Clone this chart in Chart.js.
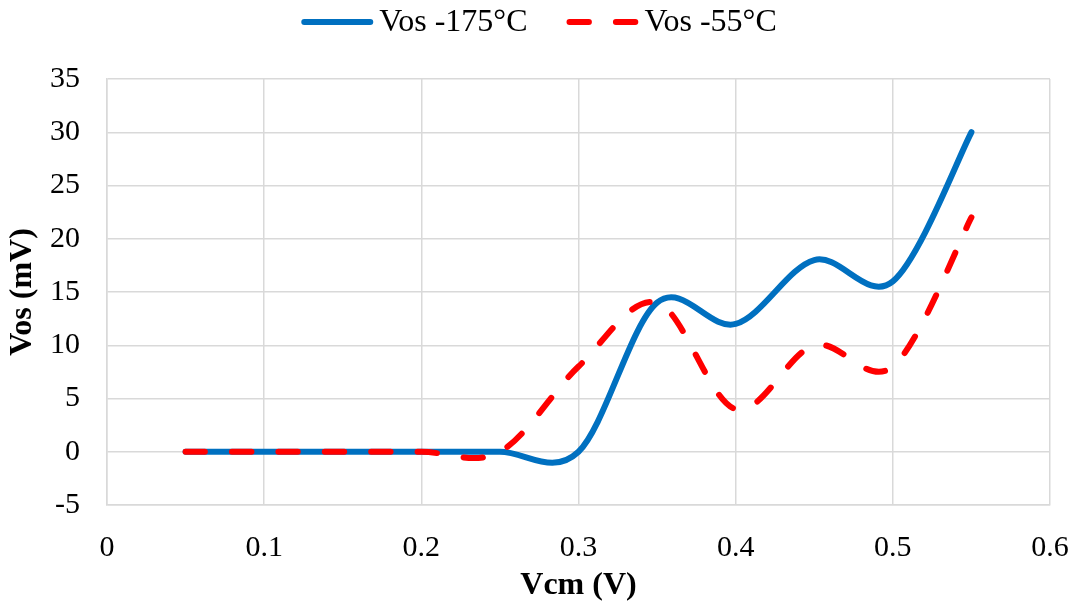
<!DOCTYPE html>
<html>
<head>
<meta charset="utf-8">
<script src="https://cdn.jsdelivr.net/npm/chart.js@4.4.1/dist/chart.umd.min.js"></script>
<style>
  html, body { margin: 0; padding: 0; background: #ffffff; }
  #wrap { width: 1078px; height: 607px; position: relative; }
</style>
</head>
<body>
<div id="wrap"><canvas id="c"></canvas></div>
<script>
// Common-mode voltage sweep (V)
const vcm = [0.05, 0.10, 0.15, 0.20, 0.25, 0.30, 0.35, 0.40, 0.45, 0.50, 0.55];
// Offset voltage (mV) at each temperature
const vos175 = [0, 0, 0, 0, 0, 0, 14, 12, 18, 16, 30];
const vos55  = [0, 0, 0, 0, 0, 8, 14, 4, 10, 8, 22];
const seriesNames = ['Vos -175°C', 'Vos -55°C'];
// Axis ticks
const xTicks = [0, 0.1, 0.2, 0.3, 0.4, 0.5, 0.6];
const yTicks = [-5, 0, 5, 10, 15, 20, 25, 30, 35];

const SERIF = '"Liberation Serif", "Times New Roman", serif';
const GRID = '#d9d9d9';

const toXY = (xs, ys) => xs.map((x, i) => ({ x: x, y: ys[i] }));

// Smooth the curves with a uniform Catmull-Rom spline through each point
const smoothCurves = {
  id: 'smoothCurves',
  beforeDatasetsDraw(chart) {
    chart.data.datasets.forEach((ds, i) => {
      const meta = chart.getDatasetMeta(i);
      const line = meta.dataset;
      if (line && line.updateControlPoints) line.updateControlPoints(chart.chartArea, 'x');
      const pts = meta.data;
      for (let k = 0; k < pts.length; k++) {
        const p = pts[k];
        const prev = pts[Math.max(k - 1, 0)];
        const next = pts[Math.min(k + 1, pts.length - 1)];
        const dx = (next.x - prev.x) / 6;
        const dy = (next.y - prev.y) / 6;
        p.cp1x = p.x - dx; p.cp1y = p.y - dy;
        p.cp2x = p.x + dx; p.cp2y = p.y + dy;
      }
      line._path = undefined;
    });
  }
};

// Legend row across the top, centred on the canvas
const topLegend = {
  id: 'topLegend',
  afterDraw(chart) {
    const ctx = chart.ctx;
    const font = '32px ' + SERIF;
    const lineLen = 66, cap = 3, textGap = 6, itemGap = 39, yMid = 22;
    ctx.save();
    ctx.font = font;
    const items = chart.data.datasets.map(ds => ({
      ds: ds, w: cap * 2 + lineLen + textGap + ctx.measureText(ds.label).width
    }));
    const total = items.reduce((s, it) => s + it.w, 0) + itemGap * (items.length - 1);
    let x = (chart.width - total) / 2;
    items.forEach(it => {
      const ds = it.ds;
      ctx.beginPath();
      ctx.setLineDash(ds.borderDash || []);
      ctx.lineDashOffset = 0;
      ctx.lineCap = 'round';
      ctx.lineWidth = ds.borderWidth;
      ctx.strokeStyle = ds.borderColor;
      ctx.moveTo(x + cap, yMid);
      ctx.lineTo(x + cap + lineLen, yMid);
      ctx.stroke();
      ctx.setLineDash([]);
      ctx.fillStyle = '#000';
      ctx.textBaseline = 'middle';
      ctx.textAlign = 'left';
      ctx.fillText(ds.label, x + cap * 2 + lineLen + textGap, yMid + 1);
      x += it.w + itemGap;
    });
    ctx.restore();
  }
};

new Chart(document.getElementById('c'), {
  type: 'line',
  data: {
    datasets: [
      {
        label: seriesNames[0],
        data: toXY(vcm, vos175),
        borderColor: '#0070C0',
        backgroundColor: '#0070C0',
        borderWidth: 6,
        borderCapStyle: 'round',
        borderJoinStyle: 'round',
        pointRadius: 0,
        tension: 0.4,
        fill: false,
        order: 1
      },
      {
        label: seriesNames[1],
        data: toXY(vcm, vos55),
        borderColor: '#FF0000',
        backgroundColor: '#FF0000',
        borderWidth: 6,
        borderDash: [19.4, 27],
        borderCapStyle: 'round',
        borderJoinStyle: 'round',
        pointRadius: 0,
        tension: 0.4,
        fill: false,
        order: 0
      }
    ]
  },
  options: {
    responsive: true,
    maintainAspectRatio: false,
    animation: false,
    layout: { padding: { top: 79, right: 28, left: 0, bottom: 0 } },
    plugins: {
      legend: { display: false },
      tooltip: { enabled: false }
    },
    scales: {
      x: {
        type: 'linear',
        min: xTicks[0],
        max: xTicks[xTicks.length - 1],
        afterBuildTicks: s => { s.ticks = xTicks.map(v => ({ value: v })); },
        afterFit: s => { s.height = 102; s.paddingLeft = 0; s.paddingRight = 0; },
        grid: { color: GRID, lineWidth: 1.5, drawTicks: false },
        border: { color: GRID, width: 1.5 },
        ticks: {
          padding: 25,
          color: '#000',
          font: { family: SERIF, size: 30 },
          callback: v => String(Number(v.toFixed(1)))
        },
        title: {
          display: true,
          text: 'Vcm (V)',
          color: '#000',
          font: { family: SERIF, size: 32, weight: 'bold' },
          padding: { top: 0, bottom: 2 }
        }
      },
      y: {
        type: 'linear',
        min: yTicks[0],
        max: yTicks[yTicks.length - 1],
        afterBuildTicks: s => { s.ticks = yTicks.map(v => ({ value: v })); },
        afterFit: s => { s.width = 107; s.paddingTop = 0; s.paddingBottom = 0; },
        grid: { color: GRID, lineWidth: 1.5, drawTicks: false },
        border: { color: GRID, width: 1.5 },
        ticks: {
          padding: 27,
          color: '#000',
          font: { family: SERIF, size: 30 },
          callback: v => String(v)
        },
        title: {
          display: true,
          text: 'Vos (mV)',
          color: '#000',
          font: { family: SERIF, size: 32, weight: 'bold' },
          padding: { top: 4, bottom: 0 }
        }
      }
    }
  },
  plugins: [smoothCurves, topLegend]
});
</script>
</body>
</html>
